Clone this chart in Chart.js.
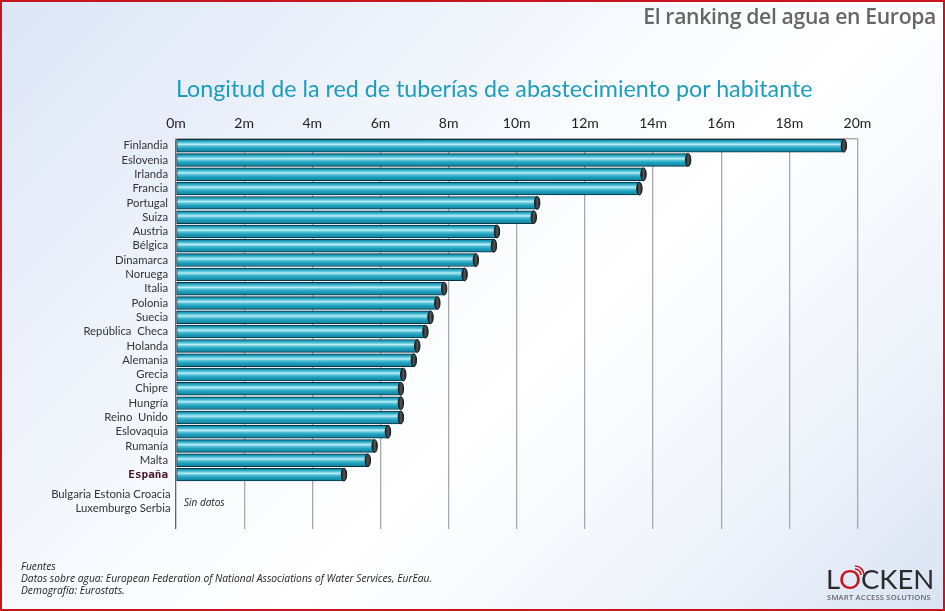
<!DOCTYPE html>
<html lang="es"><head><meta charset="utf-8">
<script src="https://cdn.jsdelivr.net/npm/chart.js@4"></script>
<style>
html,body{margin:0;padding:0}
#page{position:relative;width:945px;height:611px;overflow:hidden;box-sizing:border-box;
background:linear-gradient(135deg,#dce6f6 0%,#eaf0fa 22%,#fbfcfe 48%,#ffffff 58%,#eef2fa 82%,#d9e3f3 100%);font-family:"Open Sans",sans-serif}
#frame{position:absolute;inset:0;border:2px solid #c8141f;box-sizing:border-box;pointer-events:none}
canvas{position:absolute;left:0;top:0}
.t{position:absolute;white-space:nowrap}
#head{right:9px;top:1px;font-size:21.2px;font-weight:600;color:#666;letter-spacing:-.35px}
#title{left:176px;top:74px;font-family:Lato,sans-serif;font-size:23.25px;color:#1b9cc0}
#src{left:21px;top:560px;font-size:10.25px;line-height:12px;font-style:italic;color:#222}
#logo{left:826px;top:561px;font-family:Lato,sans-serif;font-size:27.5px;line-height:36px;color:#2b2b2b;letter-spacing:-.1px}
#logo b{font-weight:400;color:#c8141f}
#sub{left:827px;top:592px;font-size:7.6px;line-height:10px;color:#666;letter-spacing:.22px;font-weight:600}
</style></head><body>
<div id="page">
<canvas id="c" width="945" height="611"></canvas>
<div class="t" id="head">El ranking del agua en Europa</div>
<div class="t" id="title">Longitud de la red de tuberías de abastecimiento por habitante</div>
<div class="t" id="src">Fuentes<br>Datos sobre agua: European Federation of National Associations of Water Services, EurEau.<br>Demografía: Eurostats.</div>
<div class="t" id="logo">L<b>O</b>CKEN</div>
<svg style="position:absolute;left:843px;top:564px" width="28" height="24" fill="none" stroke="#c8141f" stroke-width="1.6"><path d="M12 5a6 6 0 0 1 6 6M12 2a9 9 0 0 1 9 9"/></svg>
<div class="t" id="sub">SMART ACCESS SOLUTIONS</div>
<div id="frame"></div>
</div>
<script>
const categories=["Finlandia","Eslovenia","Irlanda","Francia","Portugal","Suiza","Austria","Bélgica","Dinamarca","Noruega","Italia","Polonia","Suecia","República  Checa","Holanda","Alemania","Grecia","Chipre","Hungría","Reino  Unido","Eslovaquia","Rumanía","Malta","España"];
const lengths=[19.6,15.03,13.72,13.6,10.6,10.5,9.42,9.33,8.8,8.47,7.87,7.67,7.47,7.32,7.08,6.98,6.67,6.6,6.6,6.6,6.22,5.83,5.63,4.93];
const noDataGroups=["Bulgaria Estonia Croacia","Luxemburgo Serbia"];
const noDataNote="Sin datos";
const spain="España";
const labels=[...categories,...noDataGroups,""];
const values=[...lengths,null,null,null];
const base='Lato,sans-serif';

function tube(ctx){
  const chart=ctx.chart;
  if(!chart.chartArea||ctx.dataIndex===undefined) return "#1f9dba";
  const y=chart.scales.y.getPixelForValue(ctx.dataIndex);
  const g=chart.ctx.createLinearGradient(0,y-6.4,0,y+6.4);
  g.addColorStop(0,"#0f7a94");g.addColorStop(.14,"#1fa0bc");g.addColorStop(.3,"#6fd0e2");
  g.addColorStop(.4,"#c0eff7");g.addColorStop(.52,"#5cc4d9");g.addColorStop(.7,"#20a2bf");g.addColorStop(1,"#0f7f99");
  return g;
}
const extras={
  id:"extras",
  afterDatasetsDraw(chart){
    const c=chart.ctx,y=chart.scales.y;
    c.save();
    chart.getDatasetMeta(0).data.forEach((el,i)=>{
      if(values[i]==null)return;
      const g=c.createLinearGradient(el.x-3,0,el.x+3,0);
      g.addColorStop(0,"#111");g.addColorStop(.5,"#555");g.addColorStop(1,"#1a1a1a");
      c.beginPath();c.ellipse(el.x,el.y,2.7,6.4,0,0,Math.PI*2);
      c.fillStyle=g;c.fill();c.lineWidth=1;c.strokeStyle="#0b1a20";c.stroke();
    });
    c.fillStyle="#333";c.font="11.3px "+base;c.textAlign="right";c.textBaseline="middle";
    noDataGroups.forEach((t,i)=>c.fillText(t,170.5,y.getPixelForValue(categories.length+i)+5.5));
    c.textAlign="left";c.fillStyle="#222";c.font='italic 10px "Open Sans",sans-serif';
    c.fillText(noDataNote,184,y.getPixelForValue(categories.length)+14);
    c.restore();
  }
};
new Chart(document.getElementById("c"),{
  type:"bar",
  data:{labels,datasets:[{data:values,backgroundColor:tube,borderColor:"#0a3444",borderWidth:1,barThickness:12.8,borderSkipped:false}]},
  plugins:[extras],
  options:{
    indexAxis:"y",responsive:false,animation:false,devicePixelRatio:1,
    layout:{padding:{right:87.5,bottom:82,left:0,top:0}},
    plugins:{legend:{display:false},tooltip:{enabled:false},title:{display:false}},
    scales:{
      x:{position:"top",min:0,max:20,
        grid:{color:c=>c.index===0?"#666":"#a9a9a9",lineWidth:1.3,drawTicks:false},
        border:{display:true,color:"#a9a9a9",width:1.6},
        ticks:{stepSize:2,padding:7,maxRotation:0,color:"#222",font:{family:base,size:14},callback:v=>v+"m"},
        afterFit(s){s.height=138.5}},
      y:{
        grid:{display:false,drawTicks:false},border:{display:false},
        ticks:{autoSkip:false,padding:8,
          color:c=>labels[c.index]===spain?"#4a1226":"#333",
          font:c=>labels[c.index]===spain?{family:'"DejaVu Sans Mono",monospace',size:11,weight:"bold"}:{family:base,size:11.3},
          callback(v,i){return i<categories.length?labels[i]:""}},
        afterFit(s){s.width=176},
        afterUpdate(s){s._valueRange=27.3}}
    }
  }
});
</script>
</body></html>
